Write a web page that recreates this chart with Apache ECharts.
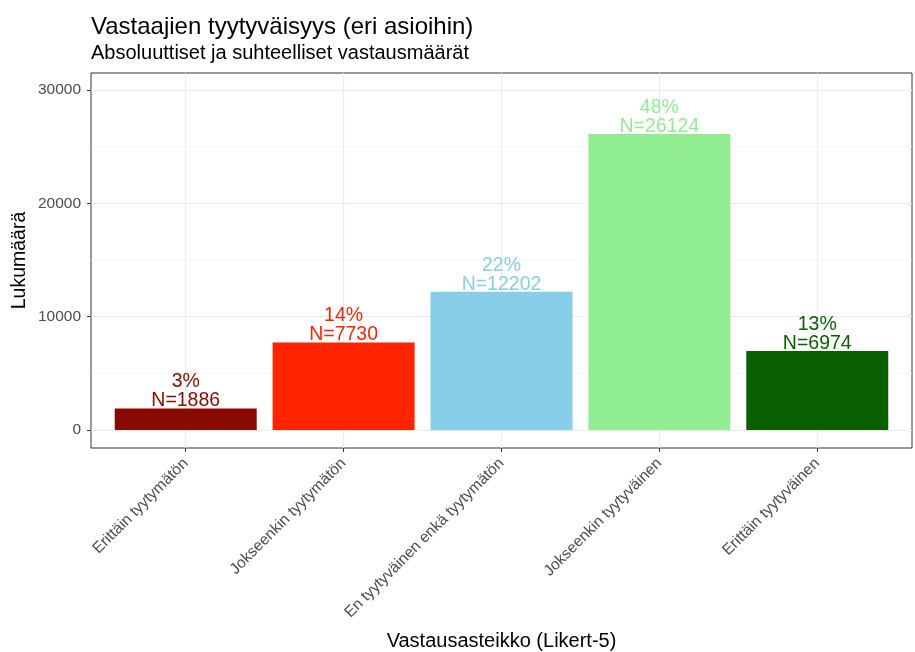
<!DOCTYPE html>
<html>
<head>
<meta charset="utf-8">
<script src="https://cdn.jsdelivr.net/npm/echarts@6/dist/echarts.min.js"></script>
<style>
  html, body { margin: 0; padding: 0; background: #fff; }
  #chart { width: 915px; height: 652px; }
</style>
</head>
<body>
<div id="chart"></div>
<script>
const categories = [
  "Erittäin tyytymätön",
  "Jokseenkin tyytymätön",
  "En tyytyväinen enkä tyytymätön",
  "Jokseenkin tyytyväinen",
  "Erittäin tyytyväinen"
];
const counts = [1886, 7730, 12202, 26124, 6974];
const percents = ["3%", "14%", "22%", "48%", "13%"];
const barColors = ["#8b0a00", "#ff2400", "#87ceeb", "#90ee90", "#0a5f00"];
const yTicks = [0, 10000, 20000, 30000];

const font = "Liberation Sans";
const chart = echarts.init(document.getElementById("chart"), null, { renderer: "canvas" });

// x on a value scale so the discrete padding matches ggplot (0.6 units each side)
const seriesData = counts.map((v, i) => ({
  value: [i + 1, v],
  itemStyle: { color: barColors[i] },
  label: { color: barColors[i] }
}));

chart.setOption({
  animation: false,
  textStyle: { fontFamily: font },
  title: {
    text: "Vastaajien tyytyväisyys (eri asioihin)",
    subtext: "Absoluuttiset ja suhteelliset vastausmäärät",
    left: 86,
    top: 10,
    itemGap: 4,
    textStyle: { fontFamily: font, fontSize: 24, fontWeight: "normal", color: "#000" },
    subtextStyle: { fontFamily: font, fontSize: 20, color: "#000" }
  },
  grid: {
    left: 91, right: 3, top: 73, bottom: 204,
    outerBoundsMode: "none",
    containLabel: false,
    show: true, borderColor: "#333", borderWidth: 1, backgroundColor: "transparent"
  },
  xAxis: {
    type: "value",
    min: 0.4, max: 5.6,
    splitNumber: 5,
    name: "Vastausasteikko (Likert-5)",
    nameLocation: "middle",
    nameGap: 183,
    nameTextStyle: { fontFamily: font, fontSize: 20, color: "#000" },
    axisLine: { show: false, onZero: false },
    axisTick: { show: true, customValues: [1, 2, 3, 4, 5], length: 4, lineStyle: { color: "#333" } },
    axisLabel: {
      customValues: [1, 2, 3, 4, 5],
      rotate: 45,
      margin: 13,
      fontFamily: font, fontSize: 15.5, color: "#4d4d4d",
      formatter: v => categories[Math.round(v) - 1] || ""
    },
    splitLine: { show: true, lineStyle: { color: "#ebebeb", width: 1.2 } }
  },
  yAxis: {
    type: "value",
    min: -1590, max: 31500,
    splitNumber: 3,
    name: "Lukumäärä",
    nameLocation: "middle",
    nameGap: 61,
    nameMoveOverlap: false,
    nameTextStyle: { fontFamily: font, fontSize: 19.5, color: "#000" },
    axisLine: { show: false, onZero: false },
    axisTick: { show: true, customValues: yTicks, length: 4, lineStyle: { color: "#333" } },
    axisLabel: {
      customValues: yTicks,
      margin: 10,
      fontFamily: font, fontSize: 15.5, color: "#4d4d4d",
      formatter: v => String(v)
    },
    splitLine: { show: true, lineStyle: { color: "#ebebeb", width: 1.2 } },
    minorTick: { show: false, splitNumber: 2 },
    minorSplitLine: { show: true, lineStyle: { color: "#f2f2f2", width: 0.7 } }
  },
  series: [{
    type: "bar",
    barWidth: 142,
    data: seriesData,
    label: {
      show: true,
      position: "top",
      distance: -2,
      fontFamily: font,
      fontSize: 19.5,
      lineHeight: 19,
      formatter: p => percents[p.dataIndex] + "\n" + "N=" + counts[p.dataIndex]
    }
  }]
});
</script>
</body>
</html>
